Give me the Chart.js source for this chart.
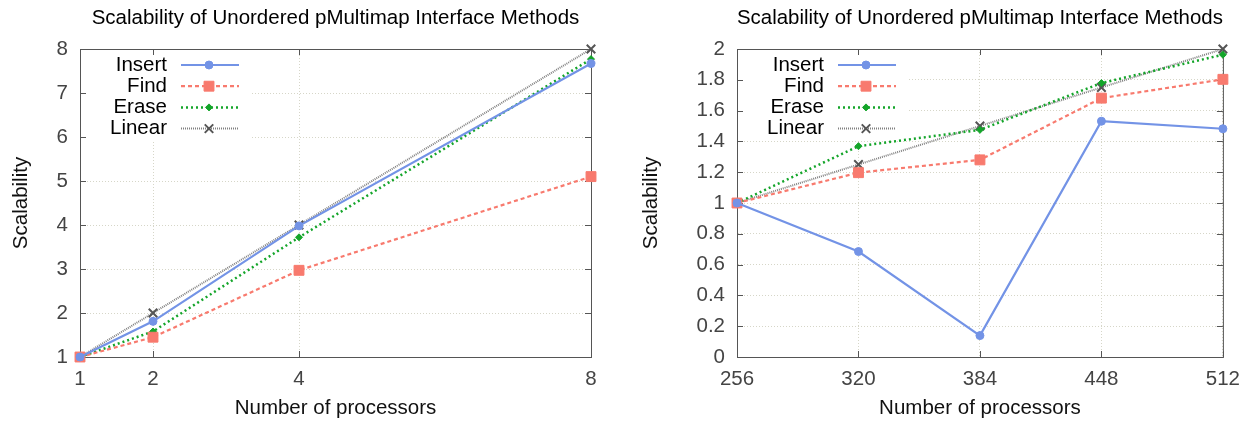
<!DOCTYPE html>
<html>
<head>
<meta charset="utf-8">
<script src="https://cdn.jsdelivr.net/npm/chart.js@4.4.1/dist/chart.umd.min.js"></script>
<style>
  html, body { margin: 0; padding: 0; background: #fff; }
  .wrap { display: flex; width: 1250px; height: 421px; }
  canvas { display: block; }
</style>
</head>
<body>
<div class="wrap">
  <canvas id="chartSmall" width="625" height="421"></canvas>
  <canvas id="chartLarge" width="625" height="421"></canvas>
</div>
<script>
const chartTitle = 'Scalability of Unordered pMultimap Interface Methods';
const xTitle = 'Number of processors';
const yTitle = 'Scalability';
const seriesNames = ['Insert', 'Find', 'Erase', 'Linear'];

// 1 - 8 processors
const procsSmall = [1, 2, 4, 8];
const insertSmall = [1, 1.81, 3.98, 7.67];
const findSmall = [1, 1.45, 2.97, 5.10];
const eraseSmall = [1, 1.58, 3.72, 7.77];
const linearSmall = [1, 2, 4, 8];

// 256 - 512 processors
const procsLarge = [256, 320, 384, 448, 512];
const insertLarge = [1, 0.685, 0.139, 1.531, 1.482];
const findLarge = [1, 1.197, 1.28, 1.681, 1.803];
const eraseLarge = [1, 1.369, 1.475, 1.779, 1.963];
const linearLarge = [1, 1.25, 1.5, 1.75, 2];

const FONT = '"Liberation Sans", Arial, Helvetica, sans-serif';

// line / marker look per series (gnuplot-ish)
const seriesStyles = [
    { color: '#7393e6', width: 2.2, dash: [], point: 'circle', radius: 4, pointBorder: '#7393e6', pointBorderWidth: 1 },
    { color: '#f87a6e', width: 2.2, dash: [4, 3], point: 'rect', radius: 7, pointBorder: '#f87a6e', pointBorderWidth: 1 },
    { color: '#14a52a', width: 2.5, dash: [2, 3], point: 'rectRot', radius: 3.5, pointBorder: '#14a52a', pointBorderWidth: 1 },
    { color: '#808080', width: 2, dash: [1, 1], point: 'crossRot', radius: 6, pointBorder: '#555555', pointBorderWidth: 2 }
];

function drawMarker(ctx, ds, x, y) {
    ctx.fillStyle = ds.pointBackgroundColor;
    ctx.strokeStyle = ds.pointBorderColor;
    ctx.lineWidth = ds.pointBorderWidth;
    if (Chart.helpers && Chart.helpers.drawPoint) {
        Chart.helpers.drawPoint(ctx, {
            pointStyle: ds.pointStyle, radius: ds.pointRadius,
            borderWidth: ds.pointBorderWidth, rotation: 0
        }, x, y);
    } else {
        ctx.beginPath();
        ctx.arc(x, y, ds.pointRadius, 0, Math.PI * 2);
        ctx.fill();
    }
}

// frame, inward ticks and the key, like the gnuplot original
const gnuplotFrame = {
    id: 'gnuplotFrame',
    beforeDatasetsDraw(chart) {
        const { ctx, chartArea: a, scales } = chart;
        ctx.save();
        ctx.fillStyle = '#fff';
        ctx.fillRect(a.left + 1, a.top + 4, 170, 87);

        ctx.strokeStyle = '#555';
        ctx.lineWidth = 1;
        ctx.strokeRect(a.left + 0.5, a.top + 0.5, a.right - a.left, a.bottom - a.top);

        ctx.beginPath();
        scales.x.ticks.forEach(t => {
            const px = Math.round(scales.x.getPixelForValue(t.value)) + 0.5;
            ctx.moveTo(px, a.bottom); ctx.lineTo(px, a.bottom - 6);
            ctx.moveTo(px, a.top); ctx.lineTo(px, a.top + 6);
        });
        scales.y.ticks.forEach(t => {
            const py = Math.round(scales.y.getPixelForValue(t.value)) + 0.5;
            ctx.moveTo(a.left, py); ctx.lineTo(a.left + 6, py);
            ctx.moveTo(a.right, py); ctx.lineTo(a.right - 6, py);
        });
        ctx.stroke();
        ctx.restore();
    },
    afterDatasetsDraw(chart) {
        const { ctx, chartArea: a } = chart;
        ctx.save();
        chart.data.datasets.forEach((ds, i) => {
            const y = a.top + 16 + i * 21.2;
            ctx.font = '20.5px ' + FONT;
            ctx.fillStyle = '#000';
            ctx.textAlign = 'right';
            ctx.textBaseline = 'middle';
            ctx.fillText(ds.label, a.left + 87, y);

            ctx.strokeStyle = ds.borderColor;
            ctx.lineWidth = ds.borderWidth;
            ctx.setLineDash(ds.borderDash);
            ctx.beginPath();
            ctx.moveTo(a.left + 101, y);
            ctx.lineTo(a.left + 159, y);
            ctx.stroke();
            ctx.setLineDash([]);
            drawMarker(ctx, ds, a.left + 129, y);
        });
        ctx.restore();
    }
};

function createScalabilityChart(canvasId, procs, seriesData, yMin, yMax, yStep, yAxisWidth, titlePad, rightPad) {
    const ctx = document.getElementById(canvasId).getContext('2d');

    const datasets = seriesData.map((values, i) => {
        const s = seriesStyles[i];
        return {
            label: seriesNames[i],
            data: procs.map((p, j) => ({ x: p, y: values[j] })),
            borderColor: s.color,
            backgroundColor: s.color,
            borderWidth: s.width,
            borderDash: s.dash,
            pointStyle: s.point,
            pointRadius: s.radius,
            pointHoverRadius: s.radius,
            pointBackgroundColor: s.color,
            pointBorderColor: s.pointBorder,
            pointBorderWidth: s.pointBorderWidth,
            tension: 0,
            clip: false
        };
    });

    return new Chart(ctx, {
        type: 'line',
        data: { datasets: datasets },
        options: {
            responsive: false,
            animation: false,
            events: [],
            layout: { padding: { left: 0, right: rightPad, top: 0, bottom: 0 } },
            plugins: {
                legend: { display: false },
                tooltip: { enabled: false },
                title: {
                    display: true,
                    text: chartTitle,
                    fullSize: false,
                    color: '#000',
                    font: { family: FONT, size: 20.5, weight: 'normal' },
                    padding: { top: 6, bottom: 18.4 }
                }
            },
            scales: {
                x: {
                    type: 'linear',
                    min: procs[0],
                    max: procs[procs.length - 1],
                    afterBuildTicks: scale => { scale.ticks = procs.map(v => ({ value: v })); },
                    afterFit: scale => { scale.height = 64; },
                    grid: { color: '#d6d6c8', lineWidth: 1, drawTicks: false },
                    border: { display: true, color: '#555', width: 1, dash: [1, 2] },
                    ticks: { color: '#444', padding: 10, maxRotation: 0, autoSkip: false, font: { family: FONT, size: 20.5 } },
                    title: { display: true, text: xTitle, color: '#111', font: { family: FONT, size: 20.5 }, padding: { top: 0, bottom: 0 } }
                },
                y: {
                    min: yMin,
                    max: yMax,
                    afterFit: scale => { scale.width = yAxisWidth; },
                    grid: { color: '#d6d6c8', lineWidth: 1, drawTicks: false },
                    border: { display: true, color: '#555', width: 1, dash: [1, 2] },
                    ticks: {
                        stepSize: yStep, color: '#444', padding: 12,
                        font: { family: FONT, size: 20.5 },
                        callback: v => String(+v.toFixed(1))
                    },
                    title: { display: true, text: yTitle, color: '#111', font: { family: FONT, size: 20.5 }, padding: { top: titlePad, bottom: 0 } }
                }
            }
        },
        plugins: [gnuplotFrame]
    });
}

createScalabilityChart('chartSmall', procsSmall,
    [insertSmall, findSmall, eraseSmall, linearSmall], 1, 8, 1, 80, 9, 34);
createScalabilityChart('chartLarge', procsLarge,
    [insertLarge, findLarge, eraseLarge, linearLarge], 0, 2, 0.2, 112, 14, 27);
</script>
</body>
</html>
